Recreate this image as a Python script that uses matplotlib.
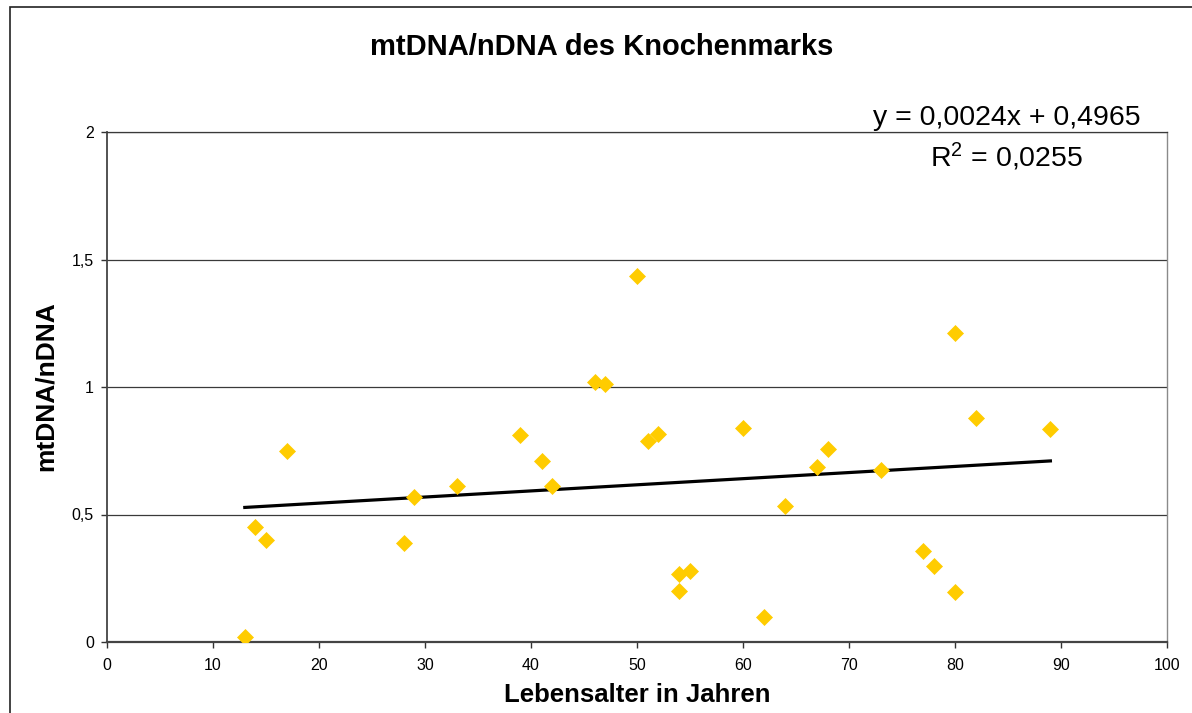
import matplotlib.pyplot as plt
from matplotlib.patches import Rectangle

plt.rcParams['font.family'] = ['Liberation Sans', 'DejaVu Sans']
plt.rcParams['mathtext.fontset'] = 'custom'
plt.rcParams['mathtext.rm'] = 'Liberation Sans'
plt.rcParams['mathtext.it'] = 'Liberation Sans'

# Alter (Jahre) und mtDNA/nDNA-Verhaeltnis
alter = [13, 14, 15, 17, 28, 29, 33, 39, 41, 42, 46, 47, 50, 51, 52,
         54, 54, 55, 60, 62, 64, 67, 68, 73, 77, 78, 80, 80, 82, 89]
ratio = [0.02, 0.45, 0.40, 0.75, 0.39, 0.57, 0.61, 0.81, 0.71, 0.61,
         1.02, 1.01, 1.435, 0.79, 0.815, 0.265, 0.20, 0.28, 0.84, 0.10,
         0.535, 0.685, 0.757, 0.675, 0.355, 0.30, 1.21, 0.195, 0.88, 0.835]

# Trendlinie laut Gleichung im Diagramm
slope = 0.0024
intercept = 0.4965
r2_text = "0,0255"

xticks = [0, 10, 20, 30, 40, 50, 60, 70, 80, 90, 100]
yticks = [0, 0.5, 1, 1.5, 2]
ytick_labels = ["0", "0,5", "1", "1,5", "2"]

W, H = 1192, 713
fig = plt.figure(figsize=(W / 100, H / 100), dpi=100)
ax = fig.add_axes([107 / W, 1 - 642 / H, (1167 - 107) / W, (642 - 132) / H])

# horizontal grid
for v in yticks[1:]:
    ax.axhline(v, color='#3a3a3a', lw=0.9, zorder=1)

# trend line from min to max age
x0, x1 = min(alter), max(alter)
ax.plot([x0, x1], [slope * x0 + intercept, slope * x1 + intercept],
        color='black', lw=2.3, zorder=3)

ax.plot(alter, ratio, linestyle='none', marker='D', ms=8.4,
        color='#FFCC00', mec='#FFCC00', mew=0.5, zorder=4)

ax.set_xlim(0, 100)
ax.set_ylim(0, 2)
ax.set_xticks(xticks)
ax.set_yticks(yticks)
ax.set_yticklabels(ytick_labels)
ax.tick_params(direction='out', length=4.5, width=1, colors='#333333',
               labelsize=11.5, labelcolor='black')
ax.tick_params(axis='x', pad=7)
ax.tick_params(axis='y', pad=5)

ax.spines['left'].set_color('#444444')
ax.spines['bottom'].set_color('#444444')
ax.spines['left'].set_linewidth(1.3)
ax.spines['bottom'].set_linewidth(1.6)
ax.spines['right'].set_color('#8a8a8a')
ax.spines['right'].set_linewidth(1.0)
ax.spines['top'].set_color('#3a3a3a')
ax.spines['top'].set_linewidth(0.9)

# outer chart frame (only top and left visible)
fig.patches.append(Rectangle((10 / W, -0.1), 1.2, 1.1 - 7 / H,
                             transform=fig.transFigure, fill=False,
                             edgecolor='#222222', lw=1.2))

fig.text(602 / W, 1 - 47 / H, "mtDNA/nDNA des Knochenmarks",
         ha='center', va='center', fontsize=21, fontweight='bold')
fig.text(637 / W, 1 - 695 / H, "Lebensalter in Jahren",
         ha='center', va='center', fontsize=18.5, fontweight='bold')
fig.text(46 / W, 1 - 386 / H, "mtDNA/nDNA", rotation=90,
         ha='center', va='center', fontsize=19, fontweight='bold')

fig.text(1007 / W, 1 - 118 / H, "y = 0,0024x + 0,4965",
         ha='center', va='center', fontsize=20.5)
fig.text(1007 / W, 1 - 157 / H, "R$^{2}$ = " + r2_text,
         ha='center', va='center', fontsize=20.5)

fig.savefig('out.png', dpi=100)
